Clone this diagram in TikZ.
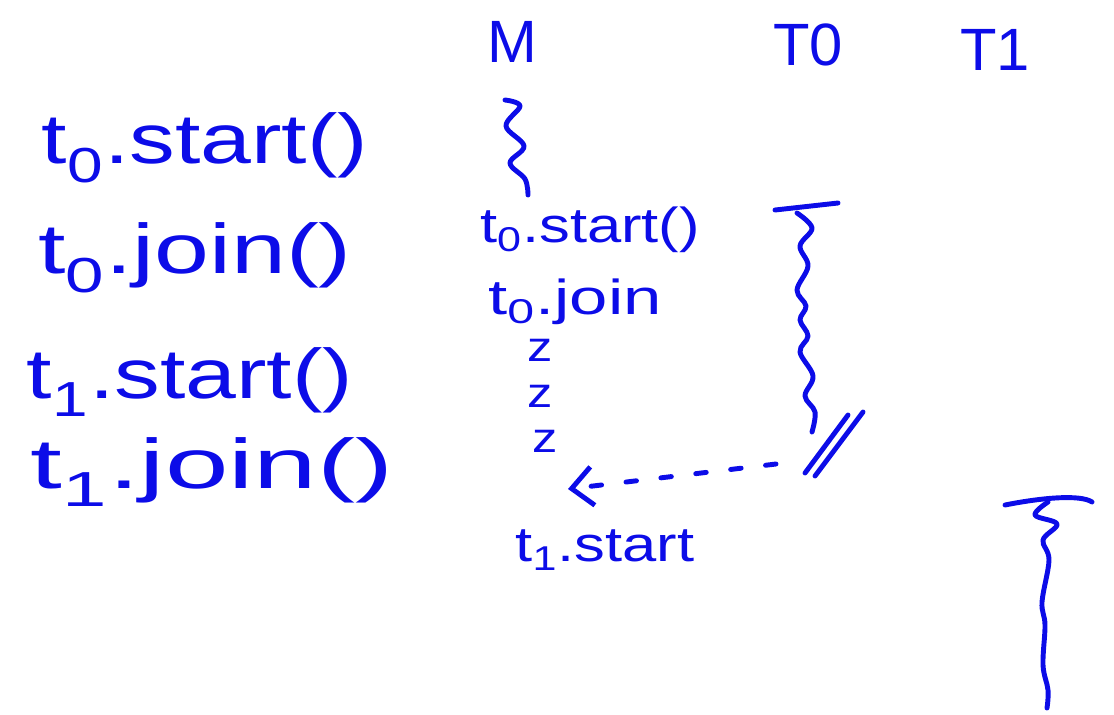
\documentclass[tikz,border=0pt]{standalone}
\usepackage{fontspec}
\setmainfont{Liberation Sans}
\usetikzlibrary{arrows.meta}
\definecolor{ink}{RGB}{12,12,232}
\begin{document}
\begin{tikzpicture}[x=0.02cm,y=-0.02cm,
  every node/.style={text=ink,inner sep=0pt},
  big/.style={font=\fontsize{40}{44}\selectfont,xscale=1.3},
  mid/.style={font=\fontsize{28}{32}\selectfont,xscale=1.25},
  zz/.style={font=\fontsize{24}{26}\selectfont,xscale=1.2},
  head/.style={font=\fontsize{34}{38}\selectfont},
  pen/.style={draw=ink,line width=2.8pt,line cap=round,line join=round}]
\useasboundingbox (0,0) rectangle (1114,714);
% left column
\node[big] (l1) at (205,148) {t\textsubscript{0}.start()};
\node[big,xscale=1.08] (l2) at (195,258) {t\textsubscript{0}.join()};
\node[big] (l3) at (190,382) {t\textsubscript{1}.start()};
\node[big,xscale=1.25] (l4) at (212,472) {t\textsubscript{1}.join()};
% headers
\node[head] (M) at (512,42) {M};
\node[head] (T0) at (808,45) {T0};
\node[head] (T1) at (995,50) {T1};
% M column
\draw[pen] plot[smooth,tension=0.6] coordinates {(505,100) (520,106) (506,126) (524,146) (510,163) (525,179) (528,195)};
\node[mid] (m1) at (590,230) {t\textsubscript{0}.start()};
\node[mid,xscale=1.12] (m2) at (575,302) {t\textsubscript{0}.join};
\node[zz] (z1) at (540,350) {z};
\node[zz] (z2) at (540,396) {z};
\node[zz] (z3) at (545,441) {z};
\node[mid] (m3) at (605,550) {t\textsubscript{1}.start};
% T0 column
\coordinate (b0l) at (775,210);
\coordinate (b0r) at (838,203);
\draw[pen] (b0l) -- (b0r);
\draw[pen] plot[smooth,tension=0.6] coordinates {(797,213) (812,228) (800,246) (808,266) (797,290) (806,306) (800,320) (808,336) (800,352) (813,376) (805,396) (815,412) (812,432)};
% double slash
\coordinate (s1a) at (805,473); \coordinate (s1b) at (848,415);
\coordinate (s2a) at (815,476); \coordinate (s2b) at (863,412);
\draw[pen] (s1a) -- (s1b);
\draw[pen] (s2a) -- (s2b);
% dashed arrow
\coordinate (da) at (776,464);
\coordinate (db) at (568,489);
\draw[pen,dash pattern=on 6pt off 14pt,-{Straight Barb[length=12pt,width=22pt,line width=2.8pt]}] (da) -- (db);
% T1 column
\coordinate (b1l) at (1005,505);
\coordinate (b1r) at (1092,502);
\draw[pen] (b1l) .. controls (1040,498) and (1080,494) .. (b1r);
\draw[pen] plot[smooth,tension=0.6] coordinates {(1048,502) (1035,515) (1057,524) (1043,540) (1049,560) (1042,602) (1045,625) (1043,665) (1048,690) (1047,708)};
\end{tikzpicture}
\end{document}
